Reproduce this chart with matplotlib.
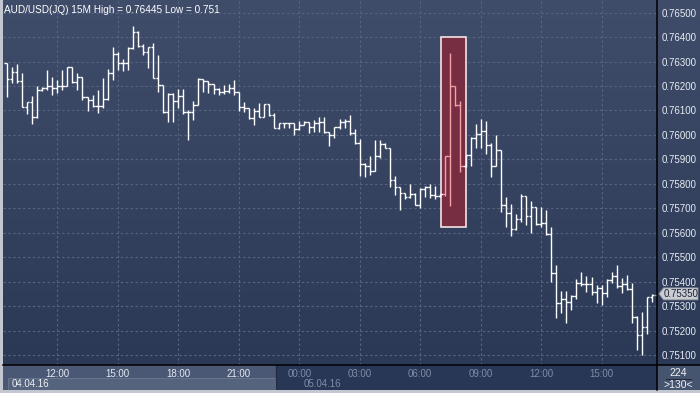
import numpy as np
import pandas as pd
import matplotlib
matplotlib.use("Agg")
import matplotlib.pyplot as plt
from matplotlib.collections import LineCollection
from matplotlib.colors import LinearSegmentedColormap
from matplotlib.lines import Line2D
from matplotlib.patches import Rectangle, Polygon

# =========================
# DATA  (AUD/USD, 15 minute bars)
# =========================
times = pd.date_range("2016-04-04 09:30", periods=130, freq="15min")

opens = [
    0.76293, 0.76229, 0.76256, 0.76221, 0.76116, 0.76133, 0.76072, 0.76184, 0.76193, 0.76202,
    0.76191, 0.76202, 0.76202, 0.76277, 0.76218, 0.76236, 0.76154, 0.76143, 0.76118, 0.76118,
    0.76147, 0.76255, 0.76330, 0.76293, 0.76296, 0.76354, 0.76422, 0.76364, 0.76338, 0.76361,
    0.76232, 0.76204, 0.76095, 0.76166, 0.76139, 0.76159, 0.76092, 0.76092, 0.76122, 0.76227,
    0.76222, 0.76207, 0.76188, 0.76177, 0.76180, 0.76191, 0.76174, 0.76116, 0.76109, 0.76071,
    0.76099, 0.76075, 0.76125, 0.76081, 0.76030, 0.76047, 0.76047, 0.76047, 0.76024, 0.76041,
    0.76052, 0.76031, 0.76050, 0.76052, 0.76013, 0.76000, 0.76031, 0.76054, 0.76058, 0.76007,
    0.75966, 0.75880, 0.75873, 0.75853, 0.75914, 0.75963, 0.75945, 0.75816, 0.75786, 0.75764,
    0.75748, 0.75759, 0.75714, 0.75778, 0.75789, 0.75755, 0.75752, 0.75757, 0.75914, 0.76202,
    0.76123, 0.75873, 0.75918, 0.75986, 0.76004, 0.76016, 0.75959, 0.75873, 0.75938, 0.75714,
    0.75680, 0.75615, 0.75655, 0.75750, 0.75669, 0.75707, 0.75634, 0.75639, 0.75594, 0.75434,
    0.75314, 0.75328, 0.75316, 0.75341, 0.75393, 0.75391, 0.75391, 0.75359, 0.75373, 0.75352,
    0.75407, 0.75425, 0.75384, 0.75391, 0.75370, 0.75257, 0.75182, 0.75216, 0.75336, 0.75345,
]
highs = [
    0.76293, 0.76277, 0.76290, 0.76252, 0.76136, 0.76159, 0.76200, 0.76197, 0.76266, 0.76238,
    0.76225, 0.76266, 0.76277, 0.76279, 0.76252, 0.76236, 0.76154, 0.76163, 0.76184, 0.76232,
    0.76268, 0.76361, 0.76341, 0.76309, 0.76361, 0.76445, 0.76425, 0.76372, 0.76361, 0.76375,
    0.76327, 0.76204, 0.76170, 0.76170, 0.76186, 0.76186, 0.76102, 0.76139, 0.76231, 0.76229,
    0.76222, 0.76207, 0.76191, 0.76204, 0.76208, 0.76225, 0.76174, 0.76133, 0.76109, 0.76109,
    0.76129, 0.76127, 0.76127, 0.76088, 0.76050, 0.76050, 0.76050, 0.76050, 0.76057, 0.76057,
    0.76054, 0.76061, 0.76072, 0.76075, 0.76013, 0.76034, 0.76064, 0.76064, 0.76082, 0.76024,
    0.75984, 0.75884, 0.75914, 0.75979, 0.75979, 0.75966, 0.75948, 0.75834, 0.75789, 0.75764,
    0.75800, 0.75761, 0.75782, 0.75793, 0.75800, 0.75793, 0.75757, 0.75914, 0.76334, 0.76202,
    0.76139, 0.75918, 0.75990, 0.76044, 0.76064, 0.76058, 0.75966, 0.76000, 0.75938, 0.75745,
    0.75716, 0.75677, 0.75757, 0.75750, 0.75731, 0.75707, 0.75704, 0.75693, 0.75622, 0.75468,
    0.75362, 0.75363, 0.75346, 0.75410, 0.75438, 0.75423, 0.75420, 0.75386, 0.75386, 0.75410,
    0.75438, 0.75468, 0.75414, 0.75427, 0.75393, 0.75260, 0.75277, 0.75339, 0.75350, 0.75355,
]
lows = [
    0.76154, 0.76211, 0.76211, 0.76113, 0.76086, 0.76043, 0.76070, 0.76181, 0.76184, 0.76163,
    0.76170, 0.76184, 0.76200, 0.76211, 0.76184, 0.76143, 0.76099, 0.76116, 0.76088, 0.76110,
    0.76143, 0.76225, 0.76266, 0.76263, 0.76266, 0.76350, 0.76361, 0.76327, 0.76272, 0.76232,
    0.76177, 0.76088, 0.76054, 0.76054, 0.76109, 0.76085, 0.75979, 0.76061, 0.76122, 0.76177,
    0.76170, 0.76167, 0.76163, 0.76167, 0.76170, 0.76163, 0.76099, 0.76095, 0.76064, 0.76041,
    0.76072, 0.76072, 0.76077, 0.76030, 0.76024, 0.76030, 0.76030, 0.76000, 0.76020, 0.76041,
    0.76009, 0.76013, 0.76013, 0.76007, 0.75955, 0.75989, 0.76023, 0.76030, 0.76000, 0.75962,
    0.75832, 0.75830, 0.75836, 0.75853, 0.75907, 0.75945, 0.75789, 0.75755, 0.75691, 0.75737,
    0.75741, 0.75714, 0.75700, 0.75748, 0.75744, 0.75737, 0.75748, 0.75750, 0.75710, 0.76118,
    0.75850, 0.75870, 0.75873, 0.75945, 0.75945, 0.75922, 0.75830, 0.75873, 0.75686, 0.75625,
    0.75587, 0.75611, 0.75645, 0.75632, 0.75600, 0.75632, 0.75625, 0.75591, 0.75400, 0.75253,
    0.75271, 0.75232, 0.75282, 0.75328, 0.75382, 0.75359, 0.75346, 0.75314, 0.75305, 0.75339,
    0.75393, 0.75373, 0.75355, 0.75365, 0.75230, 0.75121, 0.75100, 0.75185, 0.75318, 0.75340,
]
closes = [
    0.76229, 0.76256, 0.76221, 0.76116, 0.76133, 0.76072, 0.76184, 0.76193, 0.76202, 0.76191,
    0.76202, 0.76202, 0.76277, 0.76218, 0.76236, 0.76154, 0.76143, 0.76118, 0.76118, 0.76147,
    0.76255, 0.76330, 0.76293, 0.76296, 0.76354, 0.76422, 0.76364, 0.76338, 0.76361, 0.76232,
    0.76204, 0.76095, 0.76166, 0.76139, 0.76159, 0.76092, 0.76092, 0.76122, 0.76227, 0.76222,
    0.76207, 0.76188, 0.76177, 0.76180, 0.76191, 0.76174, 0.76116, 0.76109, 0.76071, 0.76099,
    0.76075, 0.76125, 0.76081, 0.76030, 0.76047, 0.76047, 0.76047, 0.76024, 0.76041, 0.76052,
    0.76031, 0.76050, 0.76052, 0.76013, 0.76000, 0.76031, 0.76054, 0.76058, 0.76007, 0.75966,
    0.75880, 0.75873, 0.75853, 0.75914, 0.75963, 0.75945, 0.75816, 0.75786, 0.75764, 0.75748,
    0.75759, 0.75714, 0.75778, 0.75789, 0.75755, 0.75752, 0.75757, 0.75914, 0.76202, 0.76123,
    0.75873, 0.75918, 0.75986, 0.76004, 0.76016, 0.75959, 0.75873, 0.75938, 0.75714, 0.75680,
    0.75615, 0.75655, 0.75750, 0.75669, 0.75707, 0.75634, 0.75639, 0.75594, 0.75434, 0.75314,
    0.75328, 0.75316, 0.75341, 0.75393, 0.75391, 0.75391, 0.75359, 0.75373, 0.75352, 0.75407,
    0.75425, 0.75384, 0.75391, 0.75370, 0.75257, 0.75182, 0.75216, 0.75336, 0.75345, 0.75350,
]

price_levels = [0.751, 0.752, 0.753, 0.754, 0.755, 0.756, 0.757, 0.758,
                0.759, 0.760, 0.761, 0.762, 0.763, 0.764, 0.765]
highlight_bars = [87, 88, 89, 90]
last_price = 0.75350
title = "AUD/USD(JQ) 15M High = 0.76445 Low = 0.751"
total_bars_label = "224"
visible_bars_label = ">130<"

# =========================
# STYLE
# =========================
W, H = 700, 393
BG_TOP = "#3f4c6a"
BG_BOT = "#2b3957"
GRID = "#56647f"
BAR = "#ffffff"
BAR_HL = "#f4a2a6"
FONT = "Liberation Sans"
plt.rcParams["font.family"] = [FONT, "DejaVu Sans"]
YLIM = (0.750591, 0.765519)


def box(left, top, width, height):
    # pixel box -> figure fraction
    return [left / W, 1 - (top + height) / H, width / W, height / H]


fig = plt.figure(figsize=(W / 100, H / 100), dpi=100)
fig.patch.set_facecolor("#c3c7cf")

# gradient background behind chart + price scale
bg = fig.add_axes(box(3, 0, 697, 365))
cmap = LinearSegmentedColormap.from_list("bg", [BG_TOP, BG_BOT])
bg.imshow(np.linspace(0, 1, 256).reshape(-1, 1), cmap=cmap, aspect="auto",
          extent=[0, 1, 0, 1])
bg.set_axis_off()

ax = fig.add_axes(box(3, 0, 654, 365))
ax.set_facecolor("none")
ax.set_xlim(-0.77, 128.99)
ax.set_ylim(*YLIM)

# grid
tick_idx = [i for i, t in enumerate(times) if t.minute == 0 and t.hour % 3 == 0]
for p in price_levels:
    ax.axhline(p, color=GRID, lw=0.8, dashes=(2.2, 2.2), zorder=1)
for i in tick_idx:
    ax.axvline(i, color=GRID, lw=0.8, dashes=(2.2, 2.2), zorder=1)

# highlight box
hl_low = min(lows[i] for i in highlight_bars)
hl_high = max(highs[i] for i in highlight_bars)
ax.add_patch(Rectangle((highlight_bars[0] - 0.9, hl_low - 0.00086),
                       len(highlight_bars) + 1.05, hl_high - hl_low + 0.00153,
                       facecolor="#772d42", edgecolor="#f3e4e4", lw=1.2, zorder=2))

# OHLC bars
segs, cols = [], []
for i, (o, h, l, c) in enumerate(zip(opens, highs, lows, closes)):
    col = BAR_HL if i in highlight_bars else BAR
    segs += [[(i, l), (i, h)], [(i - 0.48, o), (i, o)], [(i, c), (i + 0.48, c)]]
    cols += [col] * 3
ax.add_collection(LineCollection(segs, colors=cols, linewidths=1.0,
                                 capstyle="butt", zorder=3))

for s in ax.spines.values():
    s.set_visible(False)

# price scale
ax.yaxis.tick_right()
ax.set_yticks(price_levels)
ax.set_yticklabels([f"{p:.5f}" for p in price_levels])
ax.tick_params(axis="y", length=0, pad=3, labelsize=7, labelcolor="#e8ecf2")

# time axis
ax.set_xticks(tick_idx)
ax.set_xticklabels([times[i].strftime("%H:%M") for i in tick_idx])
ax.tick_params(axis="x", length=0, pad=3, labelsize=7)
for i, lab in zip(tick_idx, ax.get_xticklabels()):
    lab.set_color("#e6eaf0" if times[i].day == 4 else "#7f8ca6")

# last price marker on its own axes over the price scale (x in pixels)
axp = fig.add_axes(box(657, 0, 43, 365))
axp.set_facecolor("none")
axp.set_xlim(0, 43)
axp.set_ylim(*YLIM)
axp.set_axis_off()
half = 0.000245
axp.add_patch(Polygon([(2, last_price), (6.5, last_price + half), (41, last_price + half),
                       (41, last_price - half), (6.5, last_price - half)],
                      closed=True, facecolor="#c9cdd3", edgecolor="#8e939c", lw=0.6,
                      zorder=5))
axp.text(24, last_price, f"{last_price:.5f}", fontsize=7, color="#1c2333",
         ha="center", va="center", zorder=6)

# bottom strip
axb = fig.add_axes(box(3, 365, 654, 25), zorder=-1)
axb.set_xlim(ax.get_xlim())
axb.set_ylim(0, 1)
axb.set_facecolor("#293757")
split = 0.4174
axb.add_patch(Rectangle((0, 0), split, 1, transform=axb.transAxes,
                        facecolor="#4a5876", edgecolor="none"))
axb.add_patch(Rectangle((0.007, 0.02), split - 0.009, 0.47, transform=axb.transAxes,
                        facecolor="#55637d", edgecolor="#6c7990", lw=0.6))
axb.axvline(split * (ax.get_xlim()[1] - ax.get_xlim()[0]) + ax.get_xlim()[0],
            color="#222c40", lw=1)
axb.text(0.013, 0.25, times[0].strftime("%d.%m.%y"), transform=axb.transAxes,
         color="#eef1f5", fontsize=7, va="center", ha="left")
day2 = next(i for i, t in enumerate(times) if t.day == 5)
axb.text(day2 + 0.8, 0.25, times[day2].strftime("%d.%m.%y"), color="#7f8ca6",
         fontsize=7, va="center", ha="left",
         transform=axb.get_xaxis_transform())
axb.set_xticks([])
axb.set_yticks([])
for s in axb.spines.values():
    s.set_visible(False)

# bottom-right corner
axc = fig.add_axes(box(657, 365, 43, 25))
axc.set_facecolor("#46556f")
axc.set_xticks([])
axc.set_yticks([])
for s in axc.spines.values():
    s.set_visible(False)
axc.text(0.5, 0.68, total_bars_label, ha="center", va="center", color="#f0f2f6",
         fontsize=7.5, transform=axc.transAxes)
axc.plot([0.2, 0.8], [0.46, 0.46], color="#222a3a", lw=0.8, transform=axc.transAxes)
axc.text(0.5, 0.2, visible_bars_label, ha="center", va="center", color="#f0f2f6",
         fontsize=7.5, transform=axc.transAxes)

# frame lines
fig.add_artist(Line2D([3 / W, 1], [1 - 365 / H] * 2, color="#000000", lw=1.1))
fig.add_artist(Line2D([657 / W] * 2, [1 - 390 / H, 1], color="#000000", lw=1.1))

fig.text(3.5 / W, 1 - 10 / H, title, color="#ffffff", fontsize=7.2,
         va="center", ha="left")

fig.savefig("out.png", dpi=100, facecolor=fig.get_facecolor())
